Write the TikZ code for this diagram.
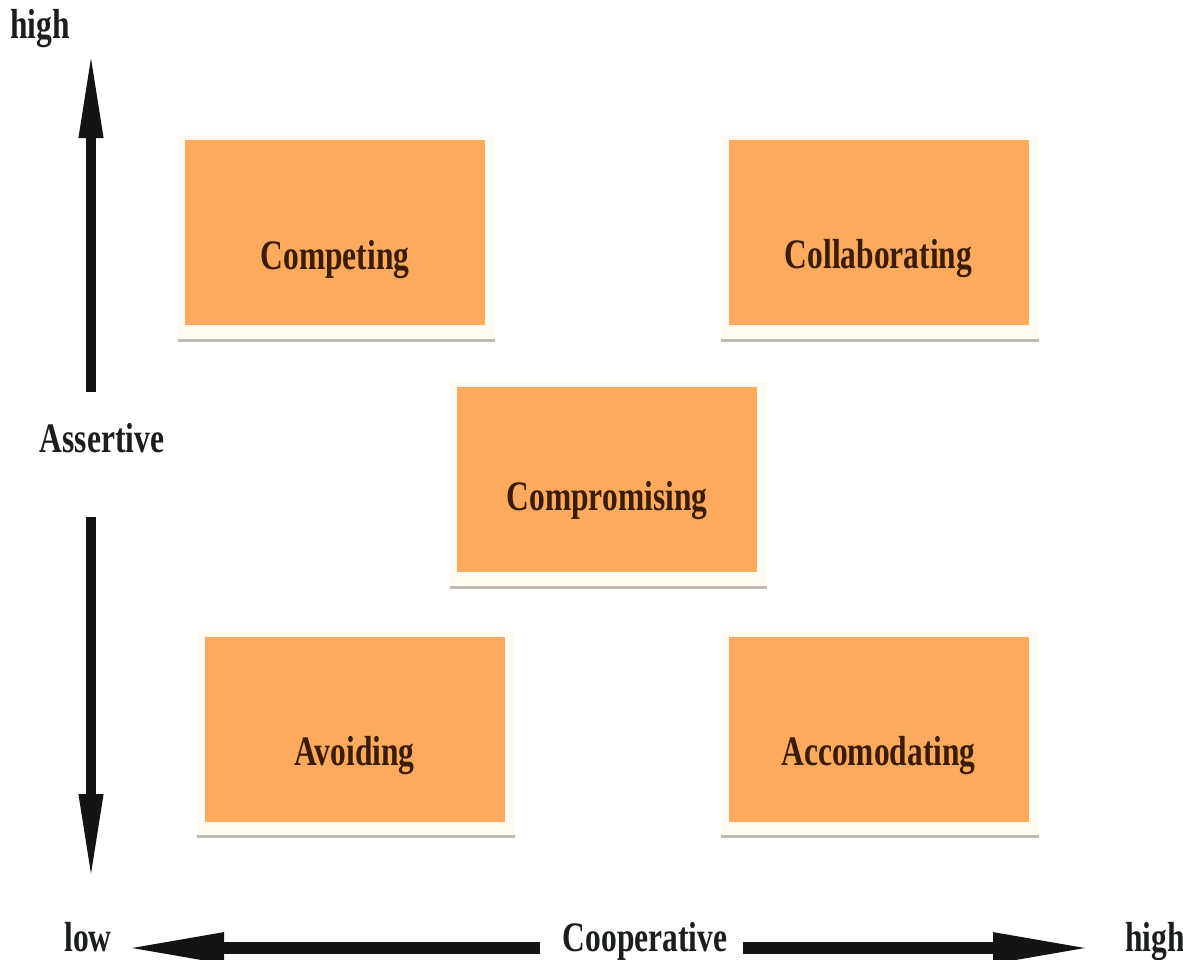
\documentclass[tikz,border=0pt]{standalone}
\usepackage{fontspec}
\setmainfont[FakeStretch=0.75]{Liberation Serif}
\usetikzlibrary{arrows.meta,backgrounds}
\definecolor{boxorange}{HTML}{FCAA5E}
\definecolor{boxink}{HTML}{3A1C08}
\definecolor{axisink}{HTML}{1A1E1C}
\definecolor{framecream}{HTML}{FFFBF3}
\definecolor{frameshade}{HTML}{C2BBB3}
\tikzset{
    stylebox/.style={fill=boxorange, inner sep=0pt, minimum width=150pt, minimum height=92.5pt},
    boxtext/.style={anchor=base, text=boxink, font=\fontsize{21}{25}\selectfont\bfseries},
    axislabel/.style={anchor=base, text=axisink, font=\fontsize{21}{25}\selectfont\bfseries},
    uparrow/.style={line width=5pt, black!92, -{Triangle[length=44pt,width=11pt]}},
    siderarrow/.style={line width=6pt, black!92, -{Triangle[length=50pt,width=14pt]}}
}
\begin{document}
\begin{tikzpicture}[x=0.5pt, y=-0.5pt]
    \clip (0,0) rectangle (1183,959);
    % the five style boxes
    \node[stylebox] (competing) at (335,232.5) {};
    \node[stylebox] (collab) at (878.5,232.5) {};
    \node[stylebox] (compromise) at (607,479.5) {};
    \node[stylebox] (avoid) at (354.5,729) {};
    \node[stylebox] (accomodate) at (878.5,729) {};
    \node[boxtext] (competing-t) at ([shift={(0,37)}]competing.center) {Competing};
    \node[boxtext] (collab-t) at ([shift={(0,36)}]collab.center) {Collaborating};
    \node[boxtext] (compromise-t) at ([shift={(0,31)}]compromise.center) {Compromising};
    \node[boxtext] (avoid-t) at ([shift={(0,36)}]avoid.center) {Avoiding};
    \node[boxtext] (accomodate-t) at ([shift={(0,36)}]accomodate.center) {Accomodating};
    \begin{scope}[on background layer]
    \fill[white] (0,0) rectangle (1183,959);
    \foreach \b in {competing,collab,compromise,avoid,accomodate} {
        \fill[framecream] ([shift={(-7,-5)}]\b.north west) rectangle ([shift={(10,15)}]\b.south east);
        \draw[frameshade, line width=1.5pt] ([shift={(-7,15)}]\b.south west) -- ([shift={(10,15)}]\b.south east);
    }
    \end{scope}
    % axis labels
    \node[axislabel] (ytop) at (40,38) {high};
    \node[axislabel] (assert) at (102,452) {Assertive};
    \node[axislabel] (xlow) at (88,951) {low};
    \node[axislabel] (coop) at (645,951) {Cooperative};
    \node[axislabel] (xhigh) at (1155,951) {high};
    % arrows
    \coordinate (upbase) at (91,392);
    \coordinate (uptip) at (91,50);
    \coordinate (downbase) at (91,517);
    \coordinate (downtip) at (91,882);
    \coordinate (leftbase) at (540,948);
    \coordinate (lefttip) at (124,948);
    \coordinate (rightbase) at (743,948);
    \coordinate (righttip) at (1093,948);
    \draw[uparrow] (upbase) -- (uptip);
    \draw[uparrow] (downbase) -- (downtip);
    \draw[siderarrow] (leftbase) -- (lefttip);
    \draw[siderarrow] (rightbase) -- (righttip);
\end{tikzpicture}
\end{document}
